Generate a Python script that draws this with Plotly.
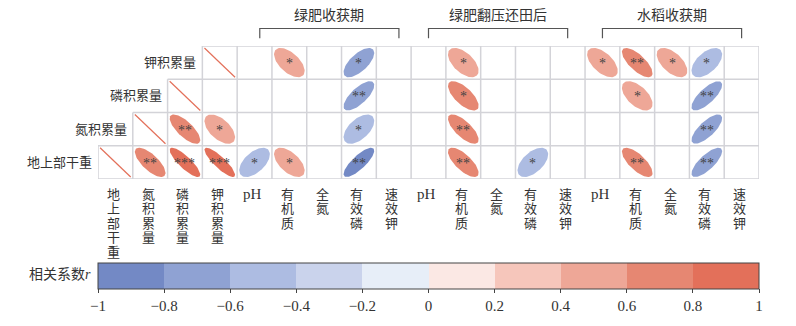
import numpy as np
import plotly.graph_objects as go

# ---------------- data ----------------
row_labels = ["地上部干重", "氮积累量", "磷积累量", "钾积累量"]          # bottom -> top
col_labels = ["地上部干重", "氮积累量", "磷积累量", "钾积累量",
              "pH", "有机质", "全氮", "有效磷", "速效钾",
              "pH", "有机质", "全氮", "有效磷", "速效钾",
              "pH", "有机质", "全氮", "有效磷", "速效钾"]
group_titles = ["绿肥收获期", "绿肥翻压还田后", "水稻收获期"]

N = None
r_dry = [1, 0.72, 0.84, 0.86, -0.55, 0.57, N, -0.80, N, N, 0.72, N, -0.55, N, N, 0.72, N, -0.76, N]
r_n   = [N, 1, 0.74, 0.55, N, N, N, -0.55, N, N, 0.72, N, N, N, N, N, N, -0.74, N]
r_p   = [N, N, 1, N, N, N, N, -0.72, N, N, 0.68, N, N, N, N, 0.56, N, -0.75, N]
r_k   = [N, N, N, 1, N, 0.57, N, -0.66, N, N, 0.56, N, N, N, 0.57, 0.72, 0.57, -0.55, N]

s_dry = ["", "**", "***", "***", "*", "*", "", "**", "", "", "**", "", "*", "", "", "**", "", "**", ""]
s_n   = ["", "", "**", "*", "", "", "", "*", "", "", "**", "", "", "", "", "", "", "**", ""]
s_p   = ["", "", "", "", "", "", "", "**", "", "", "*", "", "", "", "", "*", "", "**", ""]
s_k   = ["", "", "", "", "", "*", "", "*", "", "", "*", "", "", "", "*", "**", "*", "*", ""]

r_rows = [r_dry, r_n, r_p, r_k]
s_rows = [s_dry, s_n, s_p, s_k]

bin_colors = ["#7389c5", "#8fa2d3", "#adbce2", "#cad3ec", "#e7eef8",
              "#fbe8e4", "#f6c6bb", "#eea797", "#e68772", "#e3705a"]
cbar_ticks = [-1, -0.8, -0.6, -0.4, -0.2, 0, 0.2, 0.4, 0.6, 0.8, 1]
cbar_text = ["−1", "−0.8", "−0.6", "−0.4", "−0.2", "0", "0.2", "0.4", "0.6", "0.8", "1"]

# ---------------- helpers ----------------
ncol = len(col_labels)
nrow = len(row_labels)


def color_of(r):
    i = int(np.floor((r + 1) / 0.2))
    return bin_colors[min(max(i, 0), 9)]


fig = go.Figure()

# grid lines
gx, gy = [], []
for k in range(nrow + 1):
    start = max(k - 1, 0) if k > 0 else 0
    if k == nrow:
        start = nrow - 1
    gx += [start, ncol, None]
    gy += [k, k, None]
for c in range(ncol + 1):
    top = min(c + 1, nrow)
    gx += [c, c, None]
    gy += [0, top, None]
fig.add_trace(go.Scatter(x=gx, y=gy, mode="lines", line=dict(color="#d3d3d8", width=1.5),
                         hoverinfo="skip", showlegend=False))

# ellipses / diagonals
t = np.linspace(0, 2 * np.pi, 80)
scale = 0.44
cx_all, cy_all, cv_all = [], [], []
for ri, (rv, sv) in enumerate(zip(r_rows, s_rows)):
    for ci, r in enumerate(rv):
        if r is None:
            continue
        cx, cy = ci + 0.5, ri + 0.5
        if r >= 0.999:
            fig.add_trace(go.Scatter(x=[ci + 0.06, ci + 0.94], y=[ri + 0.94, ri + 0.06], mode="lines",
                                     line=dict(color="#e3705a", width=1.2), hoverinfo="skip",
                                     showlegend=False))
            continue
        d = np.arccos(r)
        ex = cx + scale * np.cos(t + d / 2)
        ey = cy - scale * np.cos(t - d / 2)
        fig.add_trace(go.Scatter(x=ex, y=ey, mode="lines", fill="toself", fillcolor=color_of(r),
                                 line=dict(width=0, color=color_of(r)), hoverinfo="skip",
                                 showlegend=False))
        cx_all.append(cx); cy_all.append(cy); cv_all.append(r)
        if sv[ci]:
            fig.add_annotation(x=cx, y=cy, xref="x", yref="y", text=sv[ci], showarrow=False,
                               font=dict(family="Liberation Serif", size=14, color="#444"),
                               xanchor="center", yanchor="middle", yshift=-1)

# colorbar carrier
fig.add_trace(go.Scatter(x=cx_all, y=cy_all, mode="markers",
                         marker=dict(size=0.1, color=cv_all, coloraxis="coloraxis", opacity=0),
                         hoverinfo="skip", showlegend=False))

# row labels
for ri, lab in enumerate(row_labels):
    fig.add_annotation(x=ri, y=ri + 0.5, xref="x", yref="y", text=lab, showarrow=False,
                       xanchor="right", yanchor="middle", xshift=-4,
                       font=dict(family="Liberation Serif, Noto Sans CJK SC", size=13, color="#333"))

# column labels (vertical)
for ci, lab in enumerate(col_labels):
    chars = [lab] if lab.isascii() else list(lab)
    for k, ch in enumerate(chars):
        fig.add_annotation(x=ci + 0.5, y=0, xref="x", yref="y", text=ch, showarrow=False,
                           xanchor="center", yanchor="middle", xshift=-2, yshift=-15 - 14.5 * k,
                           font=dict(family="Liberation Serif, Noto Sans CJK SC",
                                     size=15 if ch.isascii() else 13, color="#333"))

# group headers with brackets
bracket_ext = [(4.65, 8.65), (9.5, 13.5), (14.5, 18.5)]
for title, (a, b) in zip(group_titles, bracket_ext):
    fig.add_shape(type="path", xref="x", yref="paper",
                  path=f"M {a} 1.0584 L {a} 1.1314 L {b} 1.1314 L {b} 1.0584",
                  line=dict(color="#555", width=1.2))
    fig.add_annotation(x=(a + b) / 2, y=1.1314, xref="x", yref="paper", text=title, showarrow=False,
                       xanchor="center", yanchor="bottom", yshift=4,
                       font=dict(family="Liberation Serif, Noto Sans CJK SC", size=14, color="#333"))

# colorbar title
fig.add_annotation(x=0, y=-0.72, xref="paper", yref="paper", text="相关系数<i>r</i>", showarrow=False,
                   xanchor="right", yanchor="middle", xshift=-5,
                   font=dict(family="Liberation Serif, Noto Sans CJK SC", size=14, color="#333"))

cs = []
for i, c in enumerate(bin_colors):
    cs.append([i / 10, c])
    cs.append([(i + 1) / 10, c])

fig.update_layout(
    width=796, height=326,
    margin=dict(l=98, r=37, t=46, b=143),
    paper_bgcolor="white", plot_bgcolor="white",
    xaxis=dict(range=[0, ncol], visible=False, fixedrange=True),
    yaxis=dict(range=[0, nrow], visible=False, fixedrange=True),
    coloraxis=dict(
        colorscale=cs, cmin=-1, cmax=1,
        colorbar=dict(orientation="h", x=0.5, xanchor="center", y=-0.628, yanchor="top",
                      len=661, lenmode="pixels", thickness=26, xpad=0, ypad=0,
                      outlinecolor="#444", outlinewidth=1,
                      tickvals=cbar_ticks, ticktext=cbar_text, ticks="outside", ticklen=4,
                      tickcolor="#444",
                      tickfont=dict(family="Liberation Serif", size=15, color="#333"))),
    showlegend=False,
)

fig.write_html("out.html")
